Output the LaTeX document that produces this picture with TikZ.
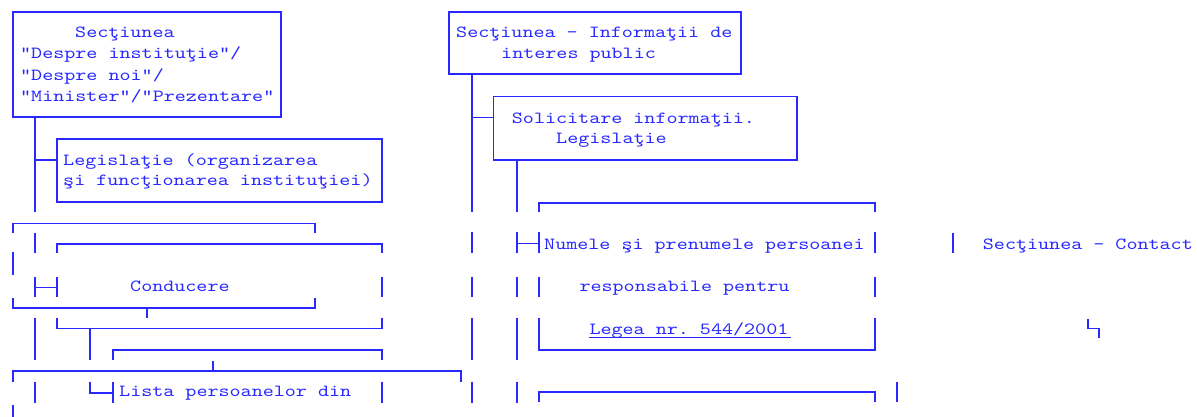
\documentclass[tikz,border=0pt]{standalone}
\usepackage{fontspec}
\setmonofont{lmmono10-regular.otf}[FakeStretch=1.238]
\definecolor{ink}{RGB}{40,40,255}
\begin{document}
\frenchspacing
\begin{tikzpicture}[x=1pt,y=-1pt,
  ln/.style={draw=ink,line width=1.6pt},
  boxn/.style={draw=ink,line width=1.6pt,rectangle,inner sep=0pt},
  txt/.style={text=ink,anchor=base west,inner sep=0pt,font=\ttfamily\fontsize{17}{21}\selectfont}]
\useasboundingbox (0,0) rectangle (1197,417);
% ---------- full boxes ----------
\node[boxn,minimum width=268.3pt,minimum height=104.7pt] (b1) at (146.85,64.65) {};
\node[boxn,minimum width=325pt,minimum height=63pt] (b2) at (219.5,170.5) {};
\node[boxn,minimum width=291.7pt,minimum height=61.7pt] (bE) at (594.85,43.15) {};
\node[boxn,minimum width=303.4pt,minimum height=63.3pt] (bF) at (645,128.35) {};
% ---------- texts ----------
\node[txt] (t1a) at (75,37.5) {Secţiunea};
\node[txt] (t1b) at (20,59) {"Despre instituţie"/};
\node[txt] (t1c) at (20,80.3) {"Despre noi"/};
\node[txt] (t1d) at (20,101.7) {"Minister"/"Prezentare"};
\node[txt] (t2a) at (63,165) {Legislaţie (organizarea};
\node[txt] (t2b) at (63,185.5) {şi funcţionarea instituţiei)};
\node[txt] (tEa) at (456,37.7) {Secţiunea - Informaţii de};
\node[txt] (tEb) at (501,58.5) {interes public};
\node[txt] (tFa) at (511.7,123.3) {Solicitare informaţii.};
\node[txt] (tFb) at (556,144) {Legislaţie};
\node[txt] (tC) at (130,291.7) {Conducere};
\node[txt] (tL) at (119,396.7) {Lista persoanelor din};
\node[txt] (tNa) at (544,249) {Numele şi prenumele persoanei};
\node[txt] (tNb) at (579.3,291.7) {responsabile pentru};
\node[txt] (tNc) at (589.3,334) {Legea nr. 544/2001};
\node[txt] (tS) at (982.7,249) {Secţiunea - Contact};
\draw[ink,line width=1.1pt] (589.3,337.5) -- (790.7,337.5);
% ---------- left trunk ----------
\coordinate (j2) at (35,160);
\coordinate (jF) at (471.7,117.7);
\draw[ln] (35,117) -- (35,212);
\draw[ln] (j2) -- (j2 -| b2.west);
\foreach \a/\b in {233/253,277/297,318/360,382/403} \draw[ln] (35,\a) -- (35,\b);
% box A (Conducere outer)
\draw[ln] (12.7,233) -- (12.7,223.3) -- (315,223.3) -- (315,233);
\draw[ln] (12.7,251.5) -- (12.7,274.5);
\draw[ln] (12.7,298) -- (12.7,307.7) -- (315,307.7) -- (315,298);
\draw[ln] (146.7,307.7) -- (146.7,318);
% box B
\draw[ln] (57,253) -- (57,244) -- (382,244) -- (382,253);
\draw[ln] (382,277) -- (382,297);
\draw[ln] (35,287.3) -- (57,287.3);
\draw[ln] (57,277) -- (57,297);
\draw[ln] (57,318) -- (57,328.3) -- (382,328.3) -- (382,318);
\draw[ln] (90,328.3) -- (90,360);
\draw[ln] (90,382) -- (90,392.7) -- (112.7,392.7);
\draw[ln] (112.7,382) -- (112.7,403);
% box C
\draw[ln] (112.7,360) -- (112.7,350) -- (382,350) -- (382,360);
\draw[ln] (382,382) -- (382,403);
% bracket D
\draw[ln] (12.7,382) -- (12.7,371) -- (461,371) -- (461,382);
\draw[ln] (213,371) -- (213,360.7);
\draw[ln] (12.7,405) -- (12.7,417);
% ---------- middle trunk ----------
\draw[ln] (471.7,74) -- (471.7,212);
\draw[ln] (jF) -- (jF -| bF.west);
\foreach \a/\b in {231.7/253.3,276.7/296.7,318.3/360,381.7/403} \draw[ln] (471.7,\a) -- (471.7,\b);
\draw[ln] (516.7,160) -- (516.7,211.7);
\foreach \a/\b in {231.7/253.3,276.7/296.7,318.3/360,381.7/403} \draw[ln] (516.7,\a) -- (516.7,\b);
\draw[ln] (516.7,243.3) -- (539,243.3);
\draw[ln] (539,231.7) -- (539,253.3);
% box G
\draw[ln] (539,211.7) -- (539,202.7) -- (875,202.7) -- (875,211.7);
\draw[ln] (875,231.7) -- (875,253.3);
\draw[ln] (875,276.7) -- (875,296.7);
\draw[ln] (539,276.7) -- (539,296.7);
\draw[ln] (539,318.3) -- (539,350) -- (875,350) -- (875,318.3);
% box H
\draw[ln] (539,401.7) -- (539,391.7) -- (875,391.7) -- (875,401.7);
\draw[ln] (896.7,381.7) -- (896.7,401.7);
% ---------- right ----------
\draw[ln] (952.7,233.3) -- (952.7,253.3);
\draw[ln] (1087.7,319) -- (1087.7,328.3) -- (1099,328.3) -- (1099,338.3);
\end{tikzpicture}
\end{document}
